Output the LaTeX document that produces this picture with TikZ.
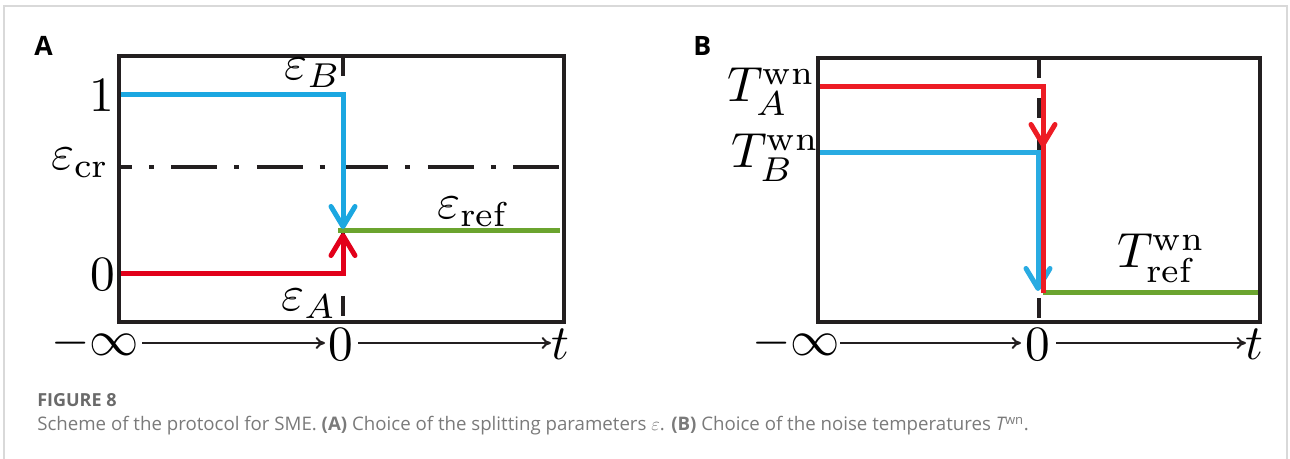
\RequirePackage{fix-cm}
\documentclass[tikz,border=0pt]{standalone}
\usepackage{fontspec}
\newfontfamily\capfont{Open Sans}
\usetikzlibrary{arrows.meta}
\newcommand\plotlab[1]{\scalebox{3.7}{$#1$}}
\definecolor{cblueA}{HTML}{1BA7E1}
\definecolor{credA}{HTML}{E2001A}
\definecolor{cgreen}{HTML}{6BA42F}
\definecolor{cblueB}{HTML}{29ABE2}
\definecolor{credB}{HTML}{ED1C24}
\definecolor{cblk}{HTML}{231F20}
\definecolor{capgray}{HTML}{7A7A7A}
\definecolor{capdark}{HTML}{6A6A6A}
\definecolor{framegray}{HTML}{D9D9D9}
\begin{document}
\begin{tikzpicture}[x=0.75pt,y=-0.75pt,
  plotbox/.style={draw=cblk, line width=3pt},
  tzero/.style={draw=cblk, line width=3pt, dash pattern=on 15pt off 15pt},
  crit/.style={draw=cblk, line width=3.4pt, dash pattern=on 34.5pt off 12.75pt on 3.75pt off 13.1pt, dash phase=25.5pt},
  level/.style={line width=3.75pt, line join=miter},
  barb/.style={-{Straight Barb[length=15pt,width=18pt,round]}},
  timeax/.style={draw=cblk, line width=1.5pt, -{To[length=7pt,width=9pt]}},
  lab/.style={font=\normalsize, inner sep=0pt, text=black},
  panel/.style={font=\capfont\bfseries\fontsize{20}{23}\selectfont, inner sep=0pt, anchor=base west},
  captext/.style={font=\capfont\fontsize{14}{16}\selectfont, inner sep=0pt, anchor=base west, text=capgray}
]
\useasboundingbox (0,0) rectangle (1290,459);
% outer frame
\draw[framegray, line width=1.5pt] (4,459) -- (4,6) -- (1287,6) -- (1287,459);

% ---------------- Panel A ----------------
\node[panel] (pA) at (34,56) {A};
\coordinate (A0top) at (343,56);
\coordinate (A0bot) at (343,322);
\draw[tzero] (A0top) -- (A0bot);
\draw[crit] (120,167) -- (562,167);
\draw[level, cgreen] (338,231) -- (560,231);
\draw[level, cblueA, barb] (121,95) -| (343,229);
\draw[level, credA, barb] (121,274) -| (343,233);
\draw[plotbox] (119,56) rectangle (564,322);

\node[lab, anchor=base] (A1) at (102,112) {\plotlab{1}};
\node[lab, anchor=base] (A00) at (103,291) {\plotlab{0}};
\node[lab, anchor=base west] (Acr) at (51,170) {\plotlab{\varepsilon_{\mathrm{cr}}}};
\node[lab, anchor=base west] (AeB) at (284,80) {\plotlab{\varepsilon_B}};
\node[lab, anchor=base west] (AeA) at (281,311) {\plotlab{\varepsilon_A}};
\node[lab, anchor=base west] (Aref) at (437,219) {\plotlab{\varepsilon_{\mathrm{ref}}}};

\node[lab, anchor=base west] (Ainf) at (51,356) {\plotlab{-\infty}};
\node[lab, anchor=base] (Azero) at (341,361) {\plotlab{0}};
\node[lab, anchor=base] (At) at (560,360) {\plotlab{t}};
\draw[timeax] (142,343) -- (325,343);
\draw[timeax] (358,343) -- (551,343);

% ---------------- Panel B ----------------
\node[panel] (pB) at (693,56) {B};
\coordinate (B0top) at (1039,58);
\coordinate (B0bot) at (1039,322);
\draw[tzero] (B0top) -- (B0bot);
\draw[level, cgreen] (1043,293) -- (1258,293);
\draw[level, cblueB, barb] (818,153) -| (1038,291);
\draw[level, credB] (818,87) -| (1043,293);
\draw[level, credB, barb] (1043,110) -- (1043,147);
\draw[plotbox] (818,58) rectangle (1260,322);

\node[lab, anchor=base west] (BTA) at (727,102) {\plotlab{T^{\mathrm{wn}}_A}};
\node[lab, anchor=base west] (BTB) at (731,168) {\plotlab{T^{\mathrm{wn}}_B}};
\node[lab, anchor=base west] (BTref) at (1117,268) {\plotlab{T^{\mathrm{wn}}_{\mathrm{ref}}}};

\node[lab, anchor=base west] (Binf) at (752,356) {\plotlab{-\infty}};
\node[lab, anchor=base] (Bzero) at (1038,361) {\plotlab{0}};
\node[lab, anchor=base] (Bt) at (1254,360) {\plotlab{t}};
\draw[timeax] (840,343) -- (1021,343);
\draw[timeax] (1056,343) -- (1246,343);

% ---------------- Caption ----------------
\node[captext, text=capdark, font=\capfont\bfseries\fontsize{13.5}{16}\selectfont] (fig) at (37,407) {FIGURE 8};
\node[captext] (caption) at (37,431) {Scheme of the protocol for SME. \textbf{(A)} Choice of the splitting parameters $\varepsilon$. \textbf{(B)} Choice of the noise temperatures {\itshape T}\textsuperscript{wn}.};
\end{tikzpicture}
\end{document}
